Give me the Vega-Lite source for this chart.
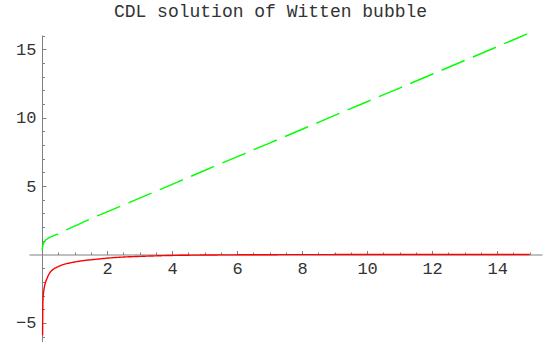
{
  "$schema": "https://vega.github.io/schema/vega-lite/v6.json",
  "width": 513,
  "height": 307,
  "autosize": "none",
  "padding": {"left": 29, "top": 35, "right": 12, "bottom": 0},
  "background": "white",
  "title": {
    "text": "CDL solution of Witten bubble",
    "font": "Liberation Mono",
    "fontSize": 18,
    "fontWeight": "normal",
    "color": "#333",
    "anchor": "middle",
    "frame": "group",
    "dx": -15,
    "offset": 9
  },
  "config": {
    "view": {"stroke": null},
    "axis": {
      "grid": false,
      "domainColor": "#808080",
      "tickColor": "#808080",
      "labelFont": "Liberation Mono",
      "labelFontSize": 17,
      "labelColor": "#333",
      "labelOverlap": false,
      "labelFlush": false,
      "title": null
    }
  },
  "data": {
    "values": [
      {"s": "red", "x": 0.018, "y": -5.9},
      {"s": "red", "x": 0.022, "y": -4.6},
      {"s": "red", "x": 0.027, "y": -3.6},
      {"s": "red", "x": 0.035, "y": -3.1},
      {"s": "red", "x": 0.05, "y": -2.72},
      {"s": "red", "x": 0.07, "y": -2.42},
      {"s": "red", "x": 0.1, "y": -2.1},
      {"s": "red", "x": 0.15, "y": -1.78},
      {"s": "red", "x": 0.2, "y": -1.5},
      {"s": "red", "x": 0.255, "y": -1.29},
      {"s": "red", "x": 0.35, "y": -1.08},
      {"s": "red", "x": 0.46, "y": -0.93},
      {"s": "red", "x": 0.6, "y": -0.78},
      {"s": "red", "x": 0.87, "y": -0.61},
      {"s": "red", "x": 1.1, "y": -0.51},
      {"s": "red", "x": 1.38, "y": -0.42},
      {"s": "red", "x": 1.7, "y": -0.34},
      {"s": "red", "x": 2.0, "y": -0.27},
      {"s": "red", "x": 2.4, "y": -0.2},
      {"s": "red", "x": 3.0, "y": -0.14},
      {"s": "red", "x": 3.5, "y": -0.1},
      {"s": "red", "x": 4.0, "y": -0.07},
      {"s": "red", "x": 5.0, "y": -0.04},
      {"s": "red", "x": 6.0, "y": -0.025},
      {"s": "red", "x": 7.0, "y": -0.016},
      {"s": "red", "x": 8.0, "y": -0.01},
      {"s": "red", "x": 10.0, "y": -0.005},
      {"s": "red", "x": 12.0, "y": -0.002},
      {"s": "red", "x": 15.0, "y": -0.001},
      {"s": "green", "x": 0.005, "y": 0.3},
      {"s": "green", "x": 0.02, "y": 0.6},
      {"s": "green", "x": 0.05, "y": 0.82},
      {"s": "green", "x": 0.1, "y": 1.02},
      {"s": "green", "x": 0.17, "y": 1.15},
      {"s": "green", "x": 0.255, "y": 1.27},
      {"s": "green", "x": 0.35, "y": 1.37},
      {"s": "green", "x": 0.46, "y": 1.47},
      {"s": "green", "x": 0.6, "y": 1.63},
      {"s": "green", "x": 0.75, "y": 1.8},
      {"s": "green", "x": 1.0, "y": 2.07},
      {"s": "green", "x": 1.465, "y": 2.58},
      {"s": "green", "x": 2.0, "y": 3.12},
      {"s": "green", "x": 3.0, "y": 4.12},
      {"s": "green", "x": 5.0, "y": 6.14},
      {"s": "green", "x": 7.0, "y": 8.15},
      {"s": "green", "x": 10.0, "y": 11.17},
      {"s": "green", "x": 12.0, "y": 13.18},
      {"s": "green", "x": 15.0, "y": 16.2}
    ]
  },
  "layer": [
    {
      "mark": {"type": "point", "opacity": 0},
      "encoding": {
        "x": {
          "field": "x", "type": "quantitative",
          "scale": {"domain": [-0.4, 15.38], "nice": false, "zero": false},
          "axis": {
            "orient": "bottom", "offset": -87.5, "domain": false, "labels": false,
            "tickSize": -2.5,
            "values": [0.5, 1, 1.5, 2.5, 3, 3.5, 4.5, 5, 5.5, 6.5, 7, 7.5, 8.5, 9, 9.5, 10.5, 11, 11.5, 12.5, 13, 13.5, 14.5, 15]
          }
        },
        "y": {
          "field": "y", "type": "quantitative",
          "scale": {"domain": [-6.4, 16.05], "nice": false, "zero": false},
          "axis": {
            "orient": "left", "offset": -13, "domain": false, "labels": false,
            "tickSize": -2.5,
            "values": [-6, -4, -3, -2, -1, 1, 2, 3, 4, 6, 7, 8, 9, 11, 12, 13, 14, 16]
          }
        }
      }
    },
    {
      "mark": {"type": "line", "strokeWidth": 1.4, "interpolate": "monotone"},
      "encoding": {
        "x": {
          "field": "x", "type": "quantitative",
          "scale": {"domain": [-0.4, 15.38], "nice": false, "zero": false},
          "axis": {
            "orient": "bottom", "offset": -87.5, "tickSize": -4, "labelPadding": 10,
            "values": [2, 4, 6, 8, 10, 12, 14]
          }
        },
        "y": {
          "field": "y", "type": "quantitative",
          "scale": {"domain": [-6.4, 16.05], "nice": false, "zero": false},
          "axis": {
            "orient": "left", "offset": -13, "tickSize": -4, "labelPadding": 10,
            "values": [-5, 5, 10, 15]
          }
        },
        "color": {
          "field": "s", "type": "nominal",
          "scale": {"domain": ["red", "green"], "range": ["#ff0000", "#00ff00"]},
          "legend": null
        },
        "strokeDash": {
          "field": "s", "type": "nominal",
          "scale": {"domain": ["red", "green"], "range": [[1, 0], [25, 9]]},
          "legend": null
        }
      }
    }
  ],
  "resolve": {"axis": {"x": "independent", "y": "independent"}}
}
